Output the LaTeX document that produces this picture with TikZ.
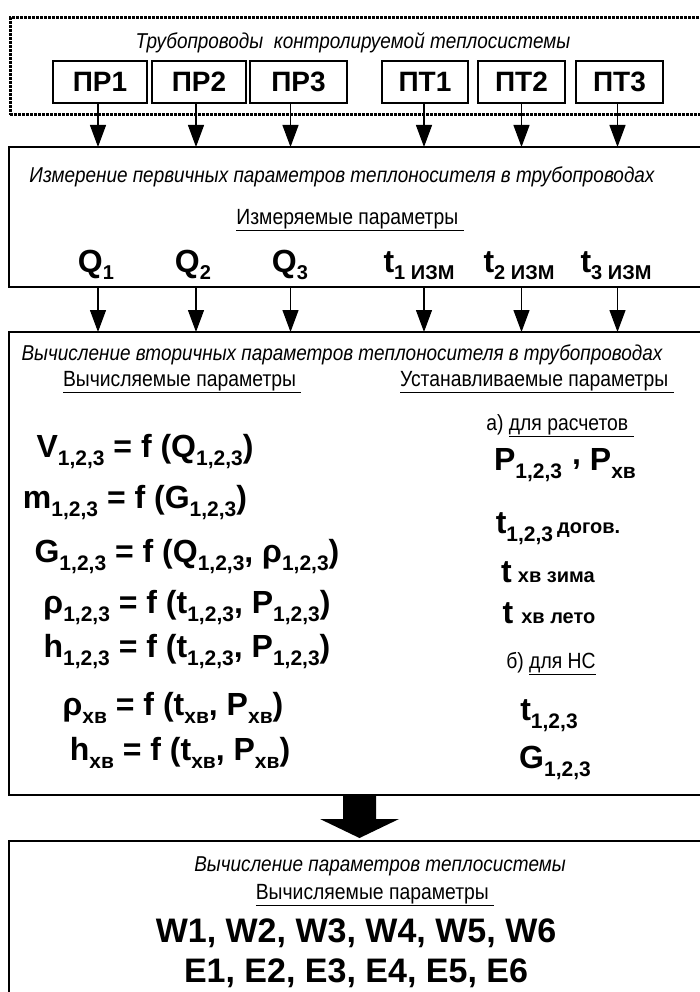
\documentclass[tikz,border=0pt]{standalone}
\usepackage{fontspec}
\setmainfont{Liberation Sans}
\newfontfamily\cond[FakeStretch=0.88]{Liberation Sans}
\usetikzlibrary{arrows.meta,calc}
\newcommand{\lsub}[1]{\raisebox{-8pt}{\fontsize{21}{21}\selectfont #1}}
\newcommand{\qsub}[1]{\raisebox{-7pt}{\fontsize{20}{20}\selectfont #1}}
\newcommand{\smb}[1]{{\fontsize{20}{20}\selectfont #1}}
\begin{document}
\begin{tikzpicture}[x=1pt,y=-1pt,
  txt/.style={inner sep=0pt, outer sep=0pt},
  ital/.style={txt, font=\cond\fontsize{21.5}{24}\selectfont\itshape},
  undl/.style={txt, font=\cond\fontsize{22}{24}\selectfont},
  eqn/.style={txt, anchor=base, font=\fontsize{32}{34}\selectfont\bfseries},
  pipebox/.style={draw, line width=1.6pt, minimum height=42pt, inner sep=0pt,
    font=\fontsize{28}{30}\selectfont\bfseries},
  bigbox/.style={draw, line width=1.6pt, inner sep=0pt, outer sep=0pt, anchor=north west},
  flow/.style={line width=1.2pt, -{Triangle[width=16pt,length=22pt]}},
]
\useasboundingbox (0,0) rectangle (700,992);
\clip (0,0) rectangle (700,992);

% container of pipes
\node[bigbox, line width=3pt, dash pattern=on 3pt off 1pt,
  minimum width=720pt, minimum height=97pt] (pipes) at (10,18) {};
\node[ital] (ptitle) at (353,43) {Трубопроводы\ \ контролируемой теплосистемы};
\node[pipebox, minimum width=94pt] (pr1) at (100,82) {ПР1};
\node[pipebox, minimum width=94pt] (pr2) at (199,82) {ПР2};
\node[pipebox, minimum width=97pt] (pr3) at (298.5,82) {ПР3};
\node[pipebox, minimum width=86pt] (pt1) at (425,82) {ПТ1};
\node[pipebox, minimum width=87pt] (pt2) at (521.5,82) {ПТ2};
\node[pipebox, minimum width=87pt] (pt3) at (619.5,82) {ПТ3};

% measurement box
\node[bigbox, minimum width=720pt, minimum height=140pt] (meas) at (9,147) {};
\node[ital] (mtitle) at (342,177) {Измерение первичных параметров теплоносителя в трубопроводах};
\node[undl] (mhead) at (350,220) {\underline{Измеряемые параметры\ }};
\node[eqn] (q1) at (96,272) {Q\qsub{1}};
\node[eqn] (q2) at (193,272) {Q\qsub{2}};
\node[eqn] (q3) at (290,272) {Q\qsub{3}};
\node[eqn] (t1) at (419,272) {t\qsub{1 ИЗМ}};
\node[eqn] (t2) at (519,272) {t\qsub{2 ИЗМ}};
\node[eqn] (t3) at (616,272) {t\qsub{3 ИЗМ}};

% calculation box
\node[bigbox, minimum width=720pt, minimum height=463pt] (calc) at (9,332) {};
\node[ital] (ctitle) at (342,355) {Вычисление вторичных параметров теплоносителя в трубопроводах};
\node[undl, anchor=west] (chl) at (63,382) {\underline{Вычисляемые параметры\ }};
\node[undl, anchor=west] (chr) at (400,382) {\underline{Устанавливаемые параметры\ }};

\node[eqn] (e1) at (145,457) {V\lsub{1,2,3} = f (Q\lsub{1,2,3})};
\node[eqn] (e2) at (135,508) {m\lsub{1,2,3} = f (G\lsub{1,2,3})};
\node[eqn] (e3) at (187,562) {G\lsub{1,2,3} = f (Q\lsub{1,2,3}, ρ\lsub{1,2,3})};
\node[eqn] (e4) at (187,613) {ρ\lsub{1,2,3} = f (t\lsub{1,2,3}, P\lsub{1,2,3})};
\node[eqn] (e5) at (187,657) {h\lsub{1,2,3} = f (t\lsub{1,2,3}, P\lsub{1,2,3})};
\node[eqn] (e6) at (173,715) {ρ\lsub{хв} = f (t\lsub{хв}, P\lsub{хв})};
\node[eqn] (e7) at (180,760) {h\lsub{хв} = f (t\lsub{хв}, P\lsub{хв})};

\node[undl, anchor=base] (ra) at (560,430) {а) \underline{для расчетов\ }};
\node[eqn] (r1) at (565,470) {P\lsub{1,2,3}\hspace{10pt}\raisebox{6pt}{,} P\lsub{хв}};
\node[eqn] (r2) at (558,533) {t\lsub{1,2,3}\hspace{4pt}\smb{догов.}};
\node[eqn] (r3) at (548,582) {t\hspace{6pt}\smb{хв зима}};
\node[eqn] (r4) at (549,623) {t\hspace{8pt}\smb{хв лето}};
\node[undl, anchor=base] (rb) at (551,668) {б) \underline{для НС}};
\node[eqn] (r5) at (549,720) {t\lsub{1,2,3}};
\node[eqn] (r6) at (555,768) {G\lsub{1,2,3}};

% result box
\node[bigbox, minimum width=720pt, minimum height=200pt] (res) at (9,841) {};
\node[ital] (rtitle) at (380,866) {Вычисление параметров теплосистемы};
\node[undl] (rhead) at (375,895) {\underline{Вычисляемые параметры\ }};
\node[txt, anchor=base, font=\fontsize{34}{36}\selectfont\bfseries] (wrow) at (356,942) {W1, W2, W3, W4, W5, W6};
\node[txt, anchor=base, font=\fontsize{34}{36}\selectfont\bfseries] (erow) at (356,982) {E1, E2, E3, E4, E5, E6};

% connectors
\foreach \n/\dx in {pr1/-2, pr2/-3, pr3/-8, pt1/-1, pt2/0, pt3/-2} {
  \draw[flow] ([xshift=\dx pt]\n.south) -- ([xshift=\dx pt]\n.south |- meas.north);
  \draw[flow] ([xshift=\dx pt]\n.south |- meas.south) -- ([xshift=\dx pt]\n.south |- calc.north);
}
% big arrow
\fill (343,795) -- (376,795) -- (376,819) -- (399,819) -- (359.5,838) -- (320,819) -- (343,819) -- cycle;
\end{tikzpicture}
\end{document}
